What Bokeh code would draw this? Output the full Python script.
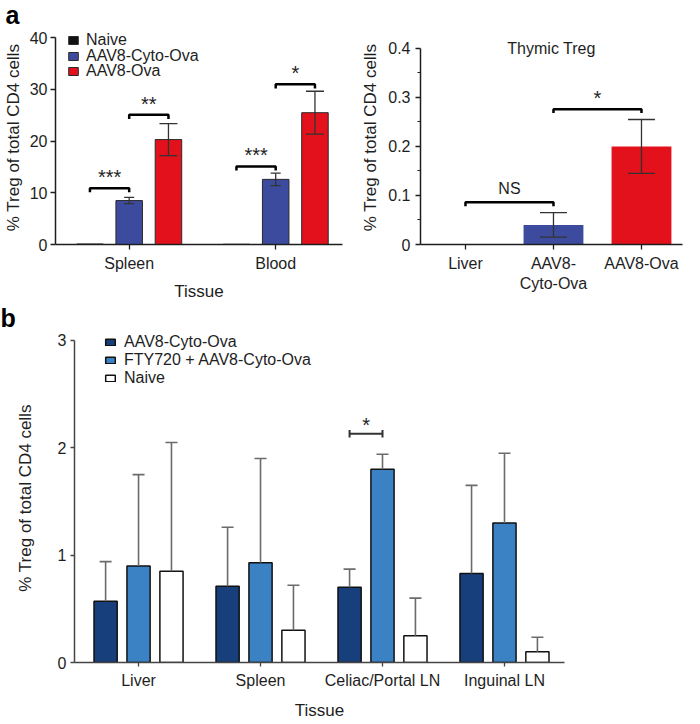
from bokeh.plotting import figure
from bokeh.layouts import column, row
from bokeh.models import (ColumnDataSource, Range1d, FixedTicker, Whisker, TeeHead,
                          Legend, LegendItem, Label)
from bokeh.embed import file_html
from bokeh.resources import INLINE
from bokeh.core.properties import value

FONT = "Liberation Sans"
INK = "#1e1e1e"

# ---------------- data: panel a (left) ----------------
tissues_a = ["Spleen", "Blood"]
series_a = ["Naive", "AAV8-Cyto-Ova", "AAV8-Ova"]
naive_a = [0.1, 0.05]
cyto_a = [8.5, 12.6]
ova_a = [20.3, 25.5]
cyto_err_a = [0.6, 1.2]
ova_err_a = [3.1, 4.15]
yticks_a = [0, 10, 20, 30, 40]
sig_a_tissue = [0, 0, 1, 1]
sig_a_from = [0, 1, 0, 1]
sig_a_to = [1, 2, 1, 2]
sig_a_level = [10.9, 25.1, 15.1, 31.0]
sig_a_text = ["***", "**", "***", "*"]

# ---------------- data: panel a (right, thymic Treg) ----------------
thymic_cats = ["Liver", "AAV8-\nCyto-Ova", "AAV8-Ova"]
thymic_vals = [0.0, 0.04, 0.2]
thymic_err = [0.0, 0.025, 0.055]
yticks_t = [0, 0.1, 0.2, 0.3, 0.4]
minor_t = [0.05, 0.15, 0.25, 0.35]
sig_t_from = [0, 1]
sig_t_to = [1, 2]
sig_t_level = [0.086, 0.276]
sig_t_text = ["NS", "*"]

# ---------------- data: panel b ----------------
tissues_b = ["Liver", "Spleen", "Celiac/Portal LN", "Inguinal LN"]
series_b = ["AAV8-Cyto-Ova", "FTY720 + AAV8-Cyto-Ova", "Naive"]
cyto_b = [0.57, 0.71, 0.70, 0.83]
fty_b = [0.90, 0.93, 1.80, 1.30]
naive_b = [0.85, 0.30, 0.25, 0.10]
cyto_b_hi = [0.94, 1.26, 0.87, 1.65]
fty_b_hi = [1.75, 1.90, 1.94, 1.95]
naive_b_hi = [2.05, 0.72, 0.60, 0.235]
yticks_b = [0, 1, 2, 3]
sig_b_tissue = [2]
sig_b_from = [0]
sig_b_to = [1]
sig_b_level = [2.13]
sig_b_text = ["*"]


def base_fig(width, height, xr, yr, bounds, left, right, top, bottom, title=None):
    p = figure(width=width, height=height, x_range=Range1d(*xr), y_range=Range1d(*yr),
               output_backend="svg", toolbar_location=None, title=title,
               min_border_left=left, min_border_right=right,
               min_border_top=top, min_border_bottom=bottom)
    p.outline_line_color = None
    p.grid.visible = False
    p.background_fill_color = "white"
    p.border_fill_color = "white"
    for ax in (p.xaxis[0], p.yaxis[0]):
        ax.axis_line_color = INK
        ax.axis_line_width = 1.5
        ax.major_tick_line_color = INK
        ax.major_tick_line_width = 1.3
        ax.major_tick_in = 0
        ax.major_tick_out = 5
        ax.minor_tick_line_color = None
        ax.major_label_text_font = FONT
        ax.major_label_text_font_size = "16px"
        ax.major_label_text_color = INK
        ax.axis_label_text_font = FONT
        ax.axis_label_text_font_size = "17px"
        ax.axis_label_text_font_style = "normal"
        ax.axis_label_text_color = INK
    p.yaxis.bounds = bounds
    if title is not None:
        p.title.text_font = FONT
        p.title.text_font_size = "25px"
        p.title.text_font_style = "bold"
        p.title.text_color = "black"
        p.title.align = "left"
        p.title.offset = -left
        p.title.standoff = 0
        p.title.vertical_align = "top"
    return p


def whisker(p, xs, lo, hi, cap, color, lw, lower_cap=True):
    src = ColumnDataSource(dict(x=xs, lo=lo, hi=hi))
    w = Whisker(source=src, base="x", lower="lo", upper="hi", dimension="height",
                line_color=color, line_width=lw, level="overlay",
                upper_head=TeeHead(size=cap, line_color=color, line_width=lw),
                lower_head=TeeHead(size=cap, line_color=color, line_width=lw) if lower_cap else None)
    p.add_layout(w)


def legend(items, loc, gh):
    return Legend(items=items, location=loc, orientation="vertical", padding=0, margin=0,
                  spacing=0, border_line_color=None, background_fill_alpha=0,
                  label_text_font=FONT, label_text_font_size="16px", label_text_color=INK,
                  glyph_width=12, glyph_height=gh, label_standoff=7, label_height=14)


# =============== panel a, left ===============
OFF_A, W_A = 0.268, 0.181
pa = base_fig(345, 303, (-0.503, 1.456), (0, 41.4), (0, 40), 50, 3, 30, 58, title="a")
colors_a = ["#111111", "#3d4b9e", "#e3111b"]
vals_a = [naive_a, cyto_a, ova_a]
items_a = []
for k, (name, vals, col) in enumerate(zip(series_a, vals_a, colors_a)):
    xs = [i + (k - 1) * OFF_A for i in range(len(tissues_a))]
    r = pa.vbar(x=xs, top=vals, bottom=0, width=W_A, fill_color=col,
                line_color="#2a2a2a", line_width=1)
    items_a.append(LegendItem(label=name, renderers=[r]))

for k, vals, errs, cap in [(1, cyto_a, cyto_err_a, 10), (2, ova_a, ova_err_a, 18)]:
    xs = [i + (k - 1) * OFF_A for i in range(len(tissues_a))]
    whisker(pa, xs, [v - e for v, e in zip(vals, errs)], [v + e for v, e in zip(vals, errs)],
            cap, "#333333", 1.3)

bx, by, tx = [], [], []
for g, i, j, lev in zip(sig_a_tissue, sig_a_from, sig_a_to, sig_a_level):
    x1 = g + (i - 1) * OFF_A
    x2 = g + (j - 1) * OFF_A
    bx.append([x1, x1, x2, x2])
    by.append([lev - 0.8, lev, lev, lev - 0.8])
    tx.append((x1 + x2) / 2)
pa.multi_line(xs=bx, ys=by, line_color="black", line_width=2.5)
pa.text(x=tx, y=sig_a_level, text=sig_a_text, text_font=value(FONT), text_font_size="20px",
        text_align="center", text_baseline="bottom", text_color=INK)

pa.xaxis.ticker = FixedTicker(ticks=list(range(len(tissues_a))))
pa.xaxis.major_label_overrides = {i: t for i, t in enumerate(tissues_a)}
pa.xaxis.axis_label = "Tissue"
pa.xaxis.major_label_standoff = 5
pa.xaxis.axis_label_standoff = 7
pa.yaxis.ticker = FixedTicker(ticks=yticks_a)
pa.yaxis.axis_label = "% Treg of total CD4 cells"
pa.yaxis.major_label_standoff = 3
pa.yaxis.axis_label_standoff = 4

# one legend per row so the rows sit as close together as in the figure
for k, item in enumerate(items_a):
    pa.add_layout(legend([item], (12, 195 - 15.5 * k), 10), "center")

# =============== panel a, right (thymic) ===============
W_T = 0.68
pt = base_fig(339, 303, (-0.511, 2.466), (0, 0.4365), (0, 0.4), 75, 2, 30, 58)
colors_t = ["#111111", "#3d4b9e", "#e3111b"]
xs_t = list(range(len(thymic_cats)))
pt.vbar(x=xs_t, top=thymic_vals, bottom=0, width=W_T, fill_color=colors_t, line_color=None)
sel = [i for i, e in enumerate(thymic_err) if e > 0]
whisker(pt, [xs_t[i] for i in sel],
        [thymic_vals[i] - thymic_err[i] for i in sel],
        [thymic_vals[i] + thymic_err[i] for i in sel], 27, "#333333", 1.3)
bx, by, tx = [], [], []
for i, j, lev in zip(sig_t_from, sig_t_to, sig_t_level):
    bx.append([i, i, j, j])
    by.append([lev - 0.008, lev, lev, lev - 0.008])
    tx.append((i + j) / 2)
pt.multi_line(xs=bx, ys=by, line_color="black", line_width=2.5)
pt.text(x=[tx[0]], y=[sig_t_level[0]], text=[sig_t_text[0]], text_font=value(FONT),
        text_font_size="16px", text_align="center", text_baseline="bottom", text_color=INK,
        y_offset=-5)
pt.text(x=[tx[1]], y=[sig_t_level[1]], text=[sig_t_text[1]], text_font=value(FONT),
        text_font_size="20px", text_align="center", text_baseline="bottom", text_color=INK)

pt.xaxis.ticker = FixedTicker(ticks=xs_t)
pt.xaxis.major_label_overrides = {i: t for i, t in enumerate(thymic_cats)}
pt.xaxis.major_label_standoff = 5
pt.yaxis.ticker = FixedTicker(ticks=yticks_t, minor_ticks=minor_t)
pt.yaxis.major_label_overrides = {0: "0"}
pt.yaxis.minor_tick_line_color = INK
pt.yaxis.minor_tick_in = 0
pt.yaxis.minor_tick_out = 3
pt.yaxis.axis_label = "% Treg of total CD4 cells"
pt.yaxis.major_label_standoff = 5
pt.yaxis.axis_label_standoff = 5
pt.add_layout(Label(x=131, y=196, x_units="screen", y_units="screen", text="Thymic Treg",
                    text_font=FONT, text_font_size="16px", text_align="center",
                    text_baseline="alphabetic", text_color=INK))

# =============== panel b ===============
OFF_B, W_B = 0.27, 0.19
pb = base_fig(684, 419, (-0.525, 3.492), (0, 3.065), (0, 3), 74, 120, 30, 58, title="b")
colors_b = ["#163f7b", "#3b82c5", "#ffffff"]
vals_b = [cyto_b, fty_b, naive_b]
his_b = [cyto_b_hi, fty_b_hi, naive_b_hi]
items_b = []
for k, (name, vals, col) in enumerate(zip(series_b, vals_b, colors_b)):
    xs = [i + (k - 1) * OFF_B for i in range(len(tissues_b))]
    r = pb.vbar(x=xs, top=vals, bottom=0, width=W_B, fill_color=col,
                line_color="#111111", line_width=1.5)
    items_b.append(LegendItem(label=name, renderers=[r]))
for k, (vals, his) in enumerate(zip(vals_b, his_b)):
    xs = [i + (k - 1) * OFF_B for i in range(len(tissues_b))]
    whisker(pb, xs, vals, his, 12, "#6b6b6b", 1.6, lower_cap=False)

x0s, y0s, x1s, y1s, tx = [], [], [], [], []
for g, i, j, lev in zip(sig_b_tissue, sig_b_from, sig_b_to, sig_b_level):
    xa = g + (i - 1) * OFF_B
    xb = g + (j - 1) * OFF_B
    x0s += [xa, xa, xb]
    x1s += [xb, xa, xb]
    y0s += [lev, lev - 0.035, lev - 0.035]
    y1s += [lev, lev + 0.035, lev + 0.035]
    tx.append((xa + xb) / 2)
pb.segment(x0=x0s, y0=y0s, x1=x1s, y1=y1s, line_color="#333333", line_width=2)
pb.text(x=tx, y=sig_b_level, text=sig_b_text, text_font=value(FONT), text_font_size="20px",
        text_align="center", text_baseline="bottom", text_color=INK, y_offset=2)

for ax in (pb.xaxis[0], pb.yaxis[0]):
    ax.axis_line_color = "#444444"
    ax.major_tick_line_color = "#444444"
    ax.major_tick_out = 4
pb.xaxis.ticker = FixedTicker(ticks=list(range(len(tissues_b))))
pb.xaxis.major_label_overrides = {i: t for i, t in enumerate(tissues_b)}
pb.xaxis.axis_label = "Tissue"
pb.xaxis.major_label_standoff = 5
pb.xaxis.axis_label_standoff = 9
pb.yaxis.ticker = FixedTicker(ticks=yticks_b)
pb.yaxis.axis_label = "% Treg of total CD4 cells"
pb.yaxis.major_label_standoff = 4
pb.yaxis.axis_label_standoff = 20

leg_b = legend(items_b, (30, 275), 8)
leg_b.label_standoff = 8
leg_b.label_height = 16
pb.add_layout(leg_b, "center")

layout = column(row(pa, pt), pb)
open("out.html", "w").write(file_html(layout, INLINE))
